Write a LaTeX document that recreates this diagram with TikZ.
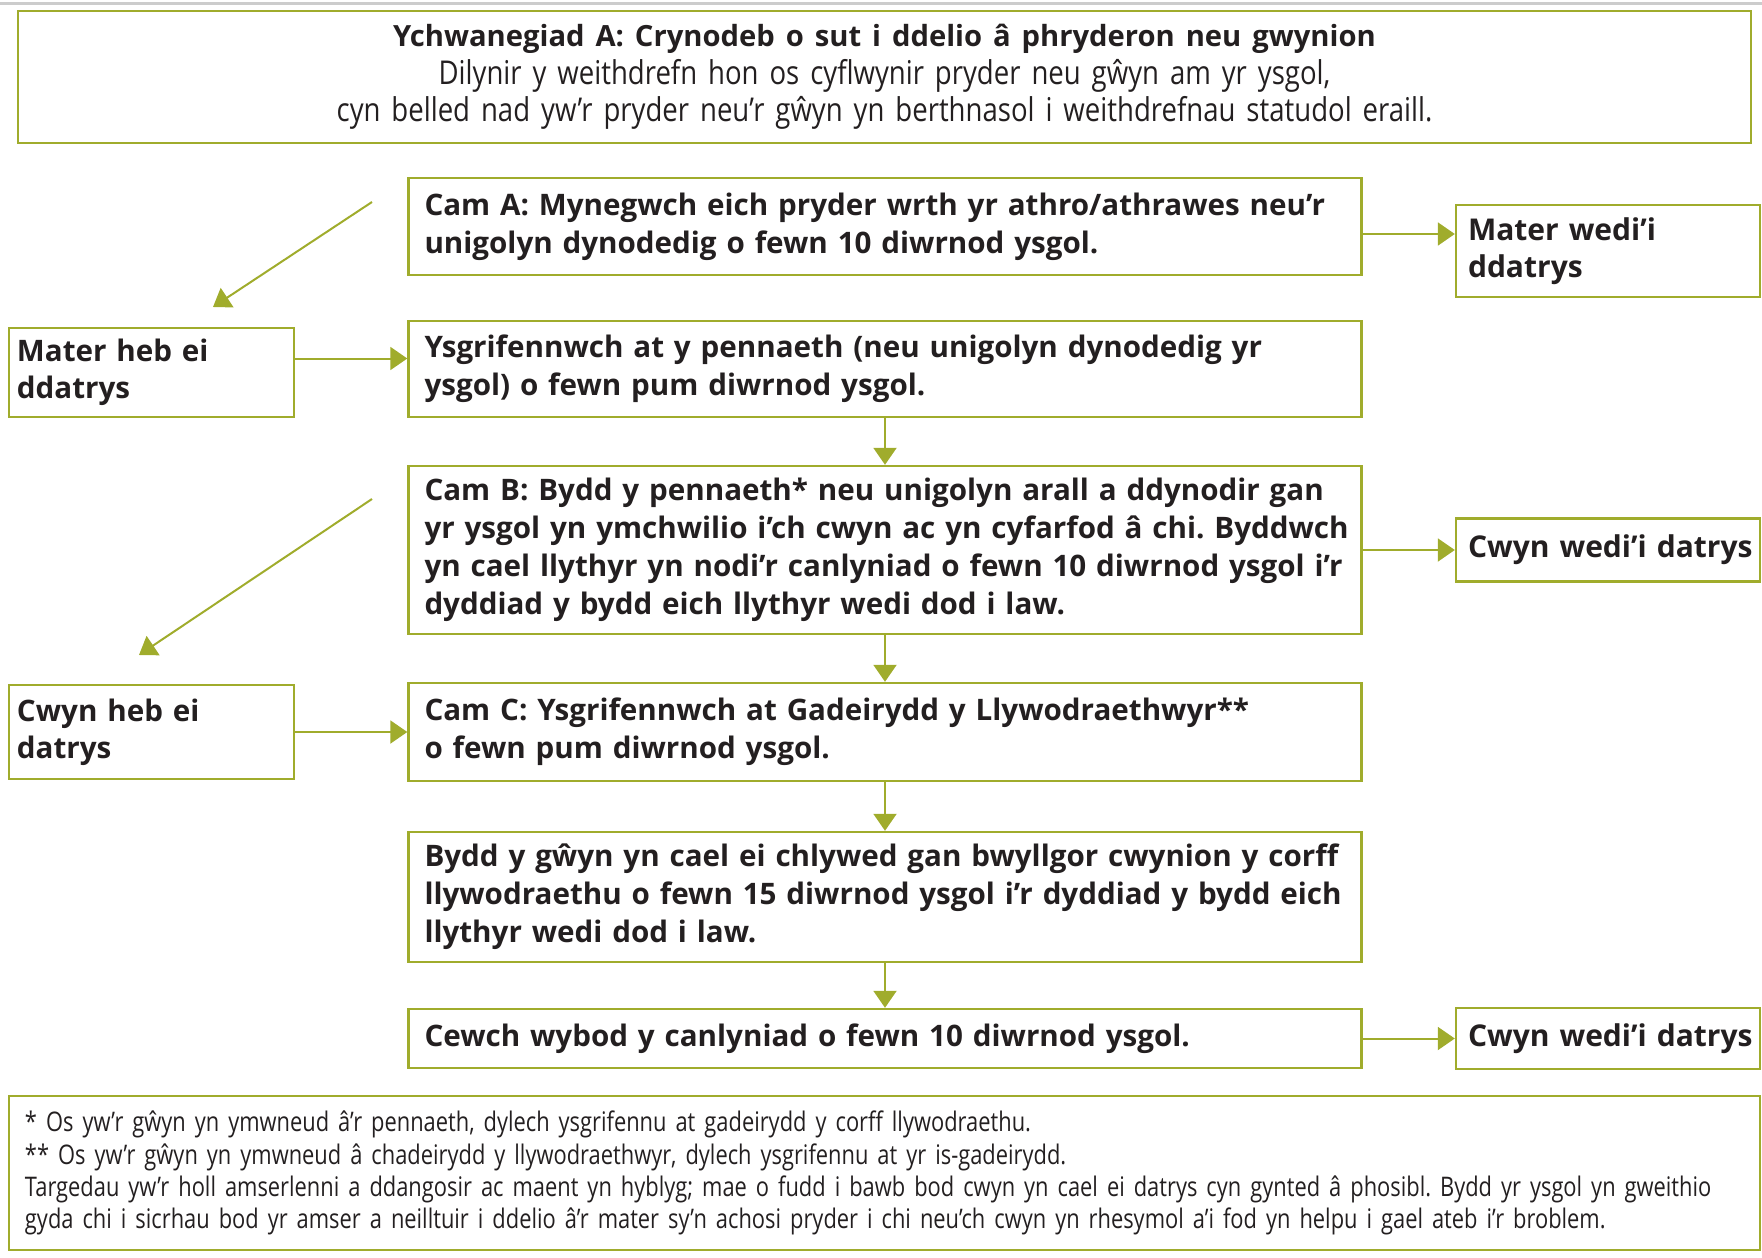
\documentclass[tikz,border=0pt]{standalone}
\usepackage{fontspec}
\setmainfont{Open Sans}
\newfontfamily\notefont[FakeStretch=0.81]{Open Sans}
\newfontfamily\leadfont[FakeStretch=0.84]{Open Sans}
\usetikzlibrary{arrows.meta}
\usetikzlibrary{positioning}
\definecolor{leaf}{HTML}{A0AC2C}
\definecolor{ink}{HTML}{231F20}
\frenchspacing

\tikzset{
  framed/.style={draw=leaf, line width=1.2pt, text=ink},
  stepbox/.style={framed, align=left, inner xsep=8pt, text width=460.5pt,
    font={\bfseries\fontsize{14.8}{19}\selectfont}},
  donebox/.style={framed, align=left, inner xsep=6pt, text width=140pt,
    font={\bfseries\fontsize{15}{18.5}\selectfont}},
  openbox/.style={framed, align=left, inner xsep=4pt, text width=134.5pt,
    font={\bfseries\fontsize{14.8}{18.5}\selectfont}},
  flow/.style={leaf, line width=1pt, -{Triangle[length=8.5pt,width=11.5pt]}},
}

\begin{document}
\begin{tikzpicture}[x=0.5pt,y=-0.5pt]
  \useasboundingbox (0,0) rectangle (1762,1258);
  \draw[black!20, line width=1.5pt] (0,3) -- (1762,3);

  % heading
  \node[framed, align=center, text width=860pt, minimum height=66pt,
    font={\leadfont\fontsize{16.4}{18.75}\selectfont}] (head) at (884.5,77)
    {{\normalfont\bfseries\fontsize{14.6}{18.75}\selectfont Ychwanegiad A: Crynodeb o sut i ddelio â phryderon neu gwynion}\\
     Dilynir y weithdrefn hon os cyflwynir pryder neu gŵyn am yr ysgol,\\
     cyn belled nad yw’r pryder neu’r gŵyn yn berthnasol i weithdrefnau statudol eraill.};

  % steps
  \node[stepbox, minimum height=48.5pt] (camA) at (885,226.5)
    {\mbox{Cam A: Mynegwch eich pryder wrth yr athro/athrawes neu’r}\\
     unigolyn dynodedig o fewn 10 diwrnod ysgol.};
  \node[stepbox, minimum height=48pt] (ysgrif) at (885,369)
    {Ysgrifennwch at y pennaeth (neu unigolyn dynodedig yr\\
     ysgol) o fewn pum diwrnod ysgol.};
  \node[stepbox, minimum height=84pt] (camB) at (885,550)
    {\mbox{Cam B: Bydd y pennaeth* neu unigolyn arall a ddynodir gan}\\
     \mbox{yr ysgol yn ymchwilio i’ch cwyn ac yn cyfarfod â chi. Byddwch}\\
     \mbox{yn cael llythyr yn nodi’r canlyniad o fewn 10 diwrnod ysgol i’r}\\
     dyddiad y bydd eich llythyr wedi dod i law.};
  \node[stepbox, minimum height=49pt] (camC) at (885,732)
    {Cam C: Ysgrifennwch at Gadeirydd y Llywodraethwyr**\\
     o fewn pum diwrnod ysgol.};
  \node[stepbox, minimum height=65pt] (bydd) at (885,897)
    {\mbox{Bydd y gŵyn yn cael ei chlywed gan bwyllgor cwynion y corff}\\
     \mbox{llywodraethu o fewn 15 diwrnod ysgol i’r dyddiad y bydd eich}\\
     llythyr wedi dod i law.};
  \node[stepbox, minimum height=29.5pt] (cewch) at (885,1038.5)
    {Cewch wybod y canlyniad o fewn 10 diwrnod ysgol.};

  % outcomes
  \node[donebox, minimum height=46pt] (materDone) at (1608,251) {Mater wedi’i\\ ddatrys};
  \node[donebox, minimum height=31.5pt, on grid, right=361.5pt of camB] (cwynDoneB) {\mbox{Cwyn wedi’i datrys}};
  \node[donebox, minimum height=30.5pt, on grid, right=361.5pt of cewch] (cwynDoneC) {\mbox{Cwyn wedi’i datrys}};
  \node[openbox, minimum height=44.5pt] (materOpen) at (151.5,372.5) {Mater heb ei\\ ddatrys};
  \node[openbox, minimum height=47pt, on grid, left=366.75pt of camC] (cwynOpen) {Cwyn heb ei\\ datrys};

  % notes
  \node[framed, align=left, inner xsep=8pt, text width=859.5pt, minimum height=77pt,
    font={\notefont\fontsize{13.5}{16.1}\selectfont}] (notes) at (884.5,1173)
    {* Os yw’r gŵyn yn ymwneud â’r pennaeth, dylech ysgrifennu at gadeirydd y corff llywodraethu.\\
     {}** Os yw’r gŵyn yn ymwneud â chadeirydd y llywodraethwyr, dylech ysgrifennu at yr is-gadeirydd.\\
     Targedau yw’r holl amserlenni a ddangosir ac maent yn hyblyg; mae o fudd i bawb bod cwyn yn cael ei datrys cyn gynted â phosibl. Bydd yr ysgol yn gweithio\\
     gyda chi i sicrhau bod yr amser a neilltuir i ddelio â’r mater sy’n achosi pryder i chi neu’ch cwyn yn rhesymol a’i fod yn helpu i gael ateb i’r broblem.};

  % connectors
  \coordinate (aA) at ([yshift=-3.75pt]camA.east);
  \coordinate (aY) at ([yshift=5.25pt]ysgrif.west);
  \coordinate (d1s) at (372,202);
  \coordinate (d1e) at (213,307);
  \coordinate (d2s) at (372,499);
  \coordinate (d2e) at (139,655);

  \path[flow]
    (ysgrif) edge (camB)
    (camB) edge (camC)
    (camC) edge (bydd)
    (bydd) edge (cewch)
    (cwynOpen) edge (camC)
    (aA) edge (aA -| materDone.west)
    (aY -| materOpen.east) edge (aY)
    (camB.east) edge (camB.east -| cwynDoneB.west)
    (cewch.east) edge (cewch.east -| cwynDoneC.west)
    (d1s) edge (d1e)
    (d2s) edge (d2e);
\end{tikzpicture}
\end{document}
